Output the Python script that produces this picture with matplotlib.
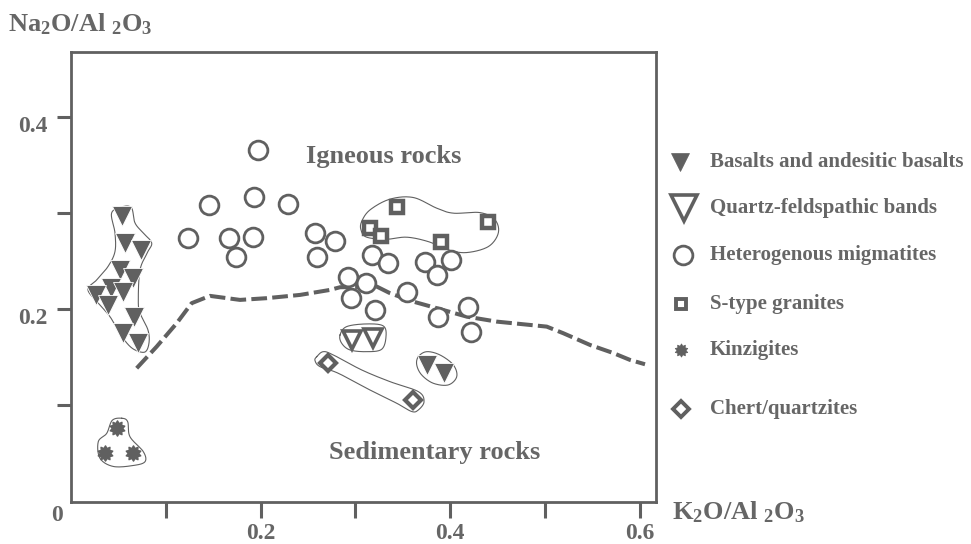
import numpy as np
import matplotlib
matplotlib.use("Agg")
import matplotlib.pyplot as plt
from matplotlib.lines import Line2D
from matplotlib.path import Path
import matplotlib.transforms as mtransforms

plt.rcParams['font.family'] = ['Liberation Serif', 'DejaVu Serif']
plt.rcParams['font.weight'] = 'bold'
plt.rcParams['mathtext.fontset'] = 'custom'
plt.rcParams['mathtext.rm'] = 'Liberation Serif:bold'
plt.rcParams['mathtext.bf'] = 'Liberation Serif:bold'
plt.rcParams['mathtext.it'] = 'Liberation Serif:bold'

GREY = '#606060'
TEXT = '#666666'

# ---- data (K2O/Al2O3, Na2O/Al2O3) ----
basalt_x = [0.054, 0.057, 0.0735, 0.0517, 0.0657, 0.0419, 0.0264, 0.0552, 0.0393, 0.0665, 0.0552, 0.071,
            0.3752, 0.3938]
basalt_y = [0.297, 0.269, 0.262, 0.241, 0.2325, 0.222, 0.215, 0.2185, 0.2047, 0.1925, 0.175, 0.165,
            0.1422, 0.1335]

qfb_x = [0.2961, 0.3189]
qfb_y = [0.1682, 0.170]

migm_x = [0.1976, 0.1459, 0.193, 0.2292, 0.1231, 0.167, 0.1923, 0.174, 0.2574, 0.2785, 0.2592, 0.3172,
          0.3347, 0.3734, 0.4005, 0.3864, 0.2925, 0.3112, 0.295, 0.3207, 0.3541, 0.3875, 0.4191, 0.4219]
migm_y = [0.3661, 0.3089, 0.3175, 0.3099, 0.2742, 0.2742, 0.2758, 0.255, 0.280, 0.2717, 0.255, 0.2568,
          0.2481, 0.2498, 0.2516, 0.2359, 0.2342, 0.2279, 0.2117, 0.1995, 0.2185, 0.1925, 0.2029, 0.1769]

stype_x = [0.3436, 0.3154, 0.327, 0.3903, 0.4402]
stype_y = [0.3065, 0.2846, 0.2766, 0.2706, 0.2915]

kinz_x = [0.0482, 0.0359, 0.0657]
kinz_y = [0.0763, 0.0502, 0.0502]

chert_x = [0.2714, 0.3604]
chert_y = [0.144, 0.1057]

# boundary igneous / sedimentary
bound_x = [0.0693, 0.0904, 0.1115, 0.1273, 0.1466, 0.1783, 0.2064, 0.2416, 0.2732, 0.2838, 0.3225,
           0.3365, 0.3611, 0.3858, 0.4174, 0.4491, 0.5018, 0.5193, 0.5475, 0.5717, 0.5897, 0.6055]
bound_y = [0.1388, 0.1613, 0.1856, 0.2065, 0.2141, 0.2099, 0.2117, 0.2151, 0.2203, 0.2231, 0.2238,
           0.2169, 0.2081, 0.2013, 0.1925, 0.1873, 0.1821, 0.1752, 0.163, 0.1547, 0.1474, 0.1429]

# hand-drawn group outlines
outline_basalt = [(0.0552, 0.3071), (0.064, 0.3054), (0.0675, 0.2901), (0.076, 0.2797), (0.0851, 0.2693),
                  (0.0805, 0.259), (0.0728, 0.2411), (0.071, 0.2099), (0.0728, 0.1964), (0.0812, 0.1786),
                  (0.0823, 0.1651), (0.0781, 0.1557), (0.0675, 0.1578), (0.0588, 0.1651), (0.0496, 0.1786),
                  (0.0411, 0.1925), (0.0306, 0.2047), (0.0179, 0.2203), (0.0271, 0.2307), (0.039, 0.2446),
                  (0.0464, 0.2602), (0.0464, 0.2797), (0.0429, 0.3005)]
outline_kinz = [(0.0535, 0.0867), (0.0598, 0.0831), (0.0622, 0.0675), (0.0763, 0.0519), (0.0781, 0.0415),
                (0.0657, 0.0375), (0.0446, 0.0365), (0.0306, 0.045), (0.0288, 0.0623), (0.0377, 0.071),
                (0.0435, 0.0845)]
outline_stype = [(0.3066, 0.2915), (0.3154, 0.3036), (0.3365, 0.3148), (0.3611, 0.3165), (0.3858, 0.3054),
                 (0.4033, 0.3002), (0.4314, 0.3008), (0.4473, 0.2932), (0.4507, 0.2794), (0.4402, 0.2654),
                 (0.4174, 0.2592), (0.398, 0.262), (0.3769, 0.2706), (0.3541, 0.2752), (0.333, 0.2731),
                 (0.3119, 0.2752), (0.3059, 0.2828)]
outline_qfb = [(0.2838, 0.1734), (0.2908, 0.1821), (0.3119, 0.1849), (0.3294, 0.1828), (0.3323, 0.1717),
               (0.3277, 0.1585), (0.3119, 0.156), (0.2943, 0.1578), (0.2855, 0.1648)]
outline_chert = [(0.2592, 0.1508), (0.2661, 0.156), (0.2767, 0.1526), (0.3066, 0.137), (0.3365, 0.1248),
                 (0.3664, 0.1144), (0.3724, 0.104), (0.3664, 0.0953), (0.3594, 0.0937), (0.3436, 0.1023),
                 (0.3154, 0.1161), (0.282, 0.1335), (0.2627, 0.1404), (0.2574, 0.1467)]
outline_bas2 = [(0.3664, 0.1508), (0.3752, 0.156), (0.3892, 0.1526), (0.4033, 0.1422), (0.4069, 0.13),
                (0.398, 0.1214), (0.3822, 0.1231), (0.3699, 0.1318), (0.3647, 0.1422)]

legend_labels = ['Basalts and andesitic basalts', 'Quartz-feldspathic bands', 'Heterogenous migmatites',
                 'S-type granites', 'Kinzigites', 'Chert/quartzites']


def smooth_closed(pts, n=20):
    # closed Catmull-Rom curve through outline points
    p = np.array(pts)
    m = len(p)
    out = []
    for i in range(m):
        p0, p1, p2, p3 = p[i - 1], p[i], p[(i + 1) % m], p[(i + 2) % m]
        for t in np.linspace(0, 1, n, endpoint=False):
            t2, t3 = t * t, t * t * t
            out.append(0.5 * ((2 * p1) + (-p0 + p2) * t + (2 * p0 - 5 * p1 + 4 * p2 - p3) * t2
                              + (-p0 + 3 * p1 - 3 * p2 + p3) * t3))
    out.append(out[0])
    return np.array(out)


# spiky "burst" marker for kinzigites
ang = np.linspace(0, 2 * np.pi, 21)[:-1] + np.pi / 2
rad = np.where(np.arange(20) % 2 == 0, 1.0, 0.68)
burst = Path(np.column_stack([rad * np.cos(ang), rad * np.sin(ang)]).tolist() + [[0, 1.0]],
             [Path.MOVETO] + [Path.LINETO] * 19 + [Path.CLOSEPOLY])

fig = plt.figure(figsize=(9.71, 5.44), dpi=100)
ax = fig.add_axes([0.0731, 0.0781, 0.603, 0.8263])
ax.set_xlim(0, 0.6176)
ax.set_ylim(0, 0.468)

for o in [outline_basalt, outline_kinz, outline_stype, outline_qfb, outline_chert, outline_bas2]:
    c = smooth_closed(o)
    ax.plot(c[:, 0], c[:, 1], color=GREY, lw=0.8, zorder=2)

ax.plot(bound_x, bound_y, color=GREY, lw=2.9, dashes=(3.9, 1.3), zorder=3)

ax.plot(migm_x, migm_y, 'o', ms=13.5, mfc='white', mec=GREY, mew=2.0, ls='none', zorder=4)
ax.plot(basalt_x, basalt_y, 'v', ms=15, mfc=GREY, mec='white', mew=0.6, ls='none', zorder=5)
ax.plot(qfb_x, qfb_y, 'v', ms=13, mfc='white', mec=GREY, mew=2.6, ls='none', zorder=5)
ax.plot(stype_x, stype_y, 's', ms=9, mfc='white', mec=GREY, mew=3.2, ls='none', zorder=5)
ax.plot(chert_x, chert_y, 'D', ms=8.5, mfc='white', mec=GREY, mew=3.0, ls='none', zorder=5)
ax.plot(kinz_x, kinz_y, marker=burst, ms=11, color=GREY, ls='none', zorder=5)

ax.text(0.3296, 0.359, 'Igneous rocks', ha='center', va='center', fontsize=19, color=TEXT)
ax.text(0.3834, 0.0515, 'Sedimentary rocks', ha='center', va='center', fontsize=19, color=TEXT)

for s in ax.spines.values():
    s.set_color(GREY)
    s.set_linewidth(2.0)
ax.set_xticks([0.1, 0.2, 0.3, 0.4, 0.5, 0.6])
ax.set_xticklabels(['', '0.2', '', '0.4', '', '0.6'])
ax.set_yticks([0.1, 0.2, 0.3, 0.4])
ax.set_yticklabels(['', '0.2', '', '0.4'])
ax.tick_params(axis='x', direction='out', length=11.5, width=2.2, color=GREY, labelcolor=TEXT,
               labelsize=17, pad=4)
ax.tick_params(axis='y', direction='out', length=10, width=2.2, color=GREY, labelcolor=TEXT,
               labelsize=17, pad=7)
off = mtransforms.ScaledTranslation(0, -5 / 72, fig.dpi_scale_trans)
for lbl in ax.get_yticklabels():
    lbl.set_transform(lbl.get_transform() + off)
ax.annotate('0', xy=(0, 0), xytext=(-10, -10), textcoords='offset points', ha='center', va='center',
            fontsize=17, color=TEXT, annotation_clip=False)

fig.text(8 / 971, 1 - 24 / 544, r'Na$_\mathbf{2}$O/Al $_\mathbf{2}$O$_\mathbf{3}$', ha='left', va='center',
         fontsize=19, color=TEXT)
fig.text(672 / 971, 1 - 512 / 544, r'K$_\mathbf{2}$O/Al $_\mathbf{2}$O$_\mathbf{3}$', ha='left', va='center',
         fontsize=19, color=TEXT)

# legend drawn by hand at figure positions
leg_y = [161.7, 208, 255, 304, 350, 409]
leg_styles = [
    dict(marker='v', ms=13.5, mfc=GREY, mec=GREY, mew=0.5, mx=680),
    dict(marker='v', ms=19, mfc='white', mec=GREY, mew=2.6, mx=684),
    dict(marker='o', ms=13.5, mfc='white', mec=GREY, mew=2.0, mx=683),
    dict(marker='s', ms=7.5, mfc='white', mec=GREY, mew=2.8, mx=681),
    dict(marker=burst, ms=9.5, mfc=GREY, mec=GREY, mew=0.5, mx=681),
    dict(marker='D', ms=8, mfc='white', mec=GREY, mew=2.8, mx=681),
]
for lab, py, st in zip(legend_labels, leg_y, leg_styles):
    st = dict(st)
    mx = st.pop('mx')
    fig.add_artist(Line2D([mx / 971], [1 - py / 544], transform=fig.transFigure, ls='none', **st))
    fig.text(710 / 971, 1 - py / 544, lab, ha='left', va='center', fontsize=15, color=TEXT)

fig.savefig('out.png', dpi=100)
